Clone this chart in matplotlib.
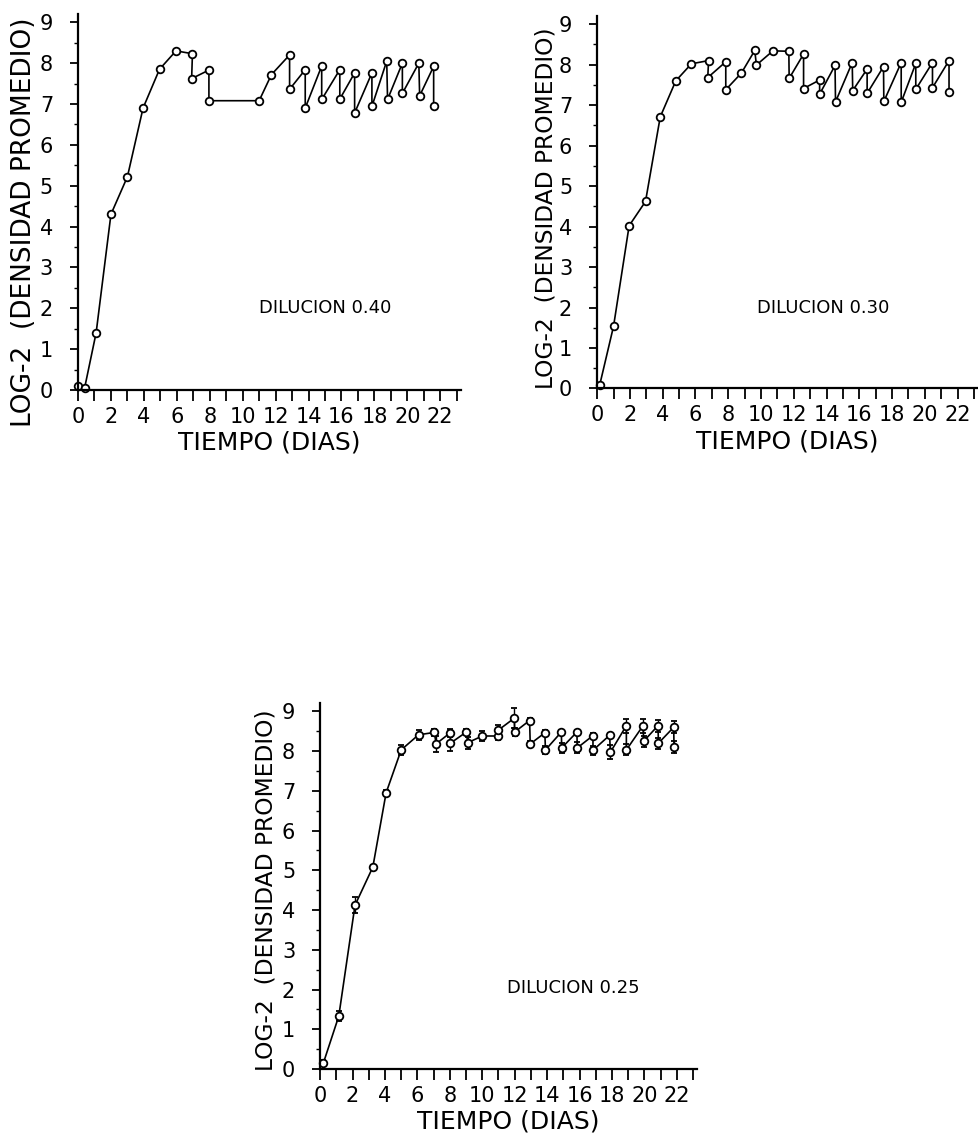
import numpy as np
import matplotlib
matplotlib.use("Agg")
import matplotlib.pyplot as plt

plt.rcParams['font.family'] = ['DejaVu Sans']

# Dilucion 0.40
t40 = [0.0, 0.4, 1.1, 2.0, 3.0, 3.95, 4.95, 5.95, 6.95, 6.9, 7.95, 7.95, 11.0, 11.75, 12.85,
       12.85, 13.8, 13.8, 14.8, 14.8, 15.9, 15.9, 16.8, 16.8, 17.85, 17.85, 18.75, 18.8, 19.7,
       19.7, 20.7, 20.75, 21.6, 21.6]
y40 = [0.1, 0.05, 1.4, 4.3, 5.22, 6.9, 7.85, 8.3, 8.23, 7.62, 7.83, 7.08, 7.08, 7.72, 8.2,
       7.36, 7.84, 6.9, 7.93, 7.11, 7.84, 7.12, 7.76, 6.78, 7.76, 6.94, 8.05, 7.11, 8.0,
       7.26, 8.0, 7.2, 7.92, 6.94]

# Dilucion 0.30
t30 = [0.15, 1.0, 1.95, 2.95, 3.85, 4.8, 5.75, 6.8, 6.75, 7.85, 7.85, 8.8, 9.62, 9.72, 10.73,
       11.7, 11.72, 12.6, 12.6, 13.58, 13.58, 14.52, 14.55, 15.57, 15.6, 16.48, 16.48, 17.48,
       17.5, 18.56, 18.56, 19.45, 19.45, 20.47, 20.47, 21.48, 21.48]
y30 = [0.08, 1.54, 4.02, 4.62, 6.71, 7.6, 8.02, 8.1, 7.68, 8.07, 7.38, 7.79, 8.35, 7.99, 8.34,
       8.33, 7.66, 8.26, 7.41, 7.62, 7.27, 7.98, 7.08, 8.05, 7.36, 7.89, 7.29, 7.95,
       7.09, 8.05, 7.07, 8.03, 7.39, 8.05, 7.43, 8.1, 7.33]

# Dilucion 0.25 (con barras de error)
t25 = [0.2, 1.15, 2.15, 3.25, 4.07, 5.0, 6.07, 7.05, 7.15, 8.02, 8.04, 9.02, 9.1, 10.0, 11.0,
       11.0, 11.98, 12.0, 12.92, 12.96, 13.86, 13.9, 14.88, 14.9, 15.84, 15.86, 16.83, 16.83,
       17.86, 17.9, 18.89, 18.89, 19.92, 19.96, 20.84, 20.87, 21.81, 21.83]
y25 = [0.15, 1.33, 4.12, 5.08, 6.95, 8.03, 8.41, 8.47, 8.18, 8.46, 8.2, 8.48, 8.21, 8.38, 8.38,
       8.53, 8.83, 8.48, 8.77, 8.18, 8.46, 8.03, 8.48, 8.08, 8.48, 8.08, 8.39, 8.02,
       8.4, 7.97, 8.64, 8.03, 8.64, 8.25, 8.64, 8.2, 8.6, 8.1]
e25 = [0.08, 0.12, 0.2, 0.05, 0.08, 0.12, 0.12, 0.08, 0.2, 0.1, 0.2, 0.08, 0.15, 0.12, 0.1,
       0.12, 0.25, 0.1, 0.06, 0.08, 0.06, 0.1, 0.06, 0.12, 0.06, 0.14, 0.06, 0.12,
       0.06, 0.18, 0.18, 0.14, 0.18, 0.14, 0.15, 0.14, 0.15, 0.15]

x_ticks = list(range(0, 24))
x_labels = [str(d) if d % 2 == 0 and d <= 22 else "" for d in x_ticks]
y_ticks = list(range(0, 10))

ylabel = "LOG-2  (DENSIDAD PROMEDIO)"
xlabel = "TIEMPO (DIAS)"


def style_axes(ax, label_x, label_y, label_size):
    ax.set_xlim(0, 23.25)
    ax.set_ylim(0, 9.2)
    for s in ["top", "right"]:
        ax.spines[s].set_visible(False)
    for s in ["left", "bottom"]:
        ax.spines[s].set_linewidth(1.6)
    ax.set_xticks(x_ticks)
    ax.set_xticklabels(x_labels)
    ax.set_yticks(y_ticks)
    ax.set_yticks(np.arange(0.5, 9.5, 1.0), minor=True)
    ax.tick_params(axis="x", direction="out", length=8, width=1.3, labelsize=15, pad=4)
    ax.tick_params(axis="y", which="major", direction="out", length=6, width=1.3,
                   labelsize=15, pad=12)
    ax.tick_params(axis="y", which="minor", direction="out", length=3, width=1.0)
    ax.set_ylabel(ylabel, fontsize=label_size)
    ax.yaxis.set_label_coords(label_x, label_y)
    ax.set_xlabel(xlabel, fontsize=18, labelpad=3)
    ax.patch.set_alpha(0)


fig = plt.figure(figsize=(9.79, 11.46), dpi=100)

line_kw = dict(color="black", linewidth=1.2, marker="o", markersize=5.5,
               markerfacecolor="white", markeredgecolor="black", markeredgewidth=1.3,
               clip_on=False)

ax1 = fig.add_axes([0.0797, 0.6597, 0.391, 0.328])
ax1.plot(t40, y40, **line_kw)
style_axes(ax1, -0.107, 0.447, 19)
ax1.text(15.0, 2.0, "DILUCION 0.40", fontsize=13, ha="center", va="center")

ax2 = fig.add_axes([0.610, 0.661, 0.389, 0.325])
ax2.plot(t30, y30, **line_kw)
style_axes(ax2, -0.105, 0.484, 16.8)
ax2.text(13.8, 1.98, "DILUCION 0.30", fontsize=13, ha="center", va="center")

ax3 = fig.add_axes([0.327, 0.0672, 0.385, 0.319])
ax3.errorbar(t25, y25, yerr=e25, ecolor="black", elinewidth=1.0, capsize=2.5,
             capthick=1.0, **line_kw)
style_axes(ax3, -0.114, 0.489, 16.8)
ax3.text(15.6, 2.03, "DILUCION 0.25", fontsize=13, ha="center", va="center")

fig.savefig("out.png", dpi=100)
